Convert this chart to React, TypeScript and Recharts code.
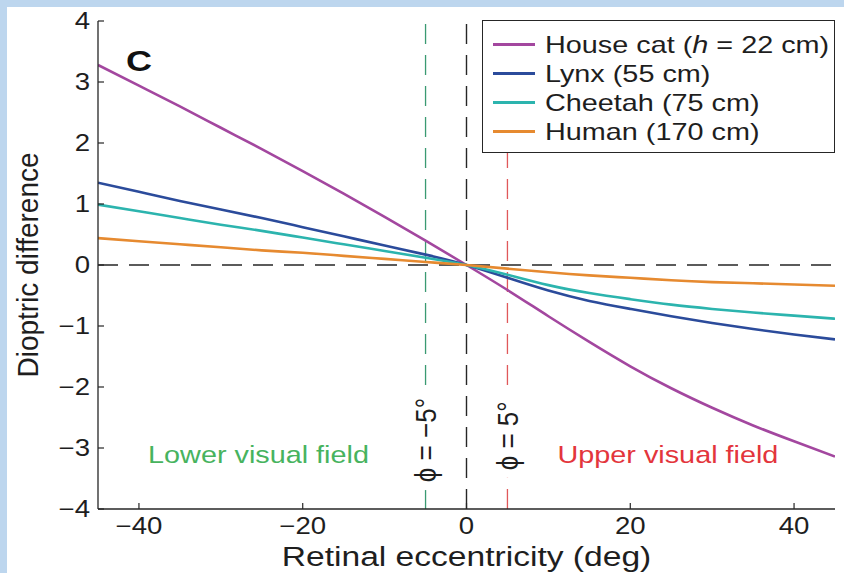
import React from 'react';
import { ComposedChart, Line, XAxis, YAxis, ReferenceLine, ReferenceDot, Legend } from 'recharts';

// ---- data ----
const eccentricity = [-45, -40, -35, -30, -25, -20, -15, -10, -5, 0, 5, 10, 15, 20, 25, 30, 35, 40, 45];
const houseCat = [3.28, 2.94, 2.6, 2.25, 1.9, 1.54, 1.17, 0.79, 0.4, 0, -0.41, -0.84, -1.26, -1.66, -2.02, -2.34, -2.63, -2.89, -3.14];
const lynx = [1.35, 1.2, 1.05, 0.91, 0.77, 0.62, 0.47, 0.32, 0.17, 0, -0.21, -0.42, -0.59, -0.72, -0.84, -0.95, -1.05, -1.14, -1.22];
const cheetah = [0.99, 0.88, 0.77, 0.66, 0.56, 0.45, 0.34, 0.23, 0.12, 0, -0.16, -0.33, -0.46, -0.56, -0.65, -0.72, -0.78, -0.83, -0.88];
const human = [0.44, 0.39, 0.34, 0.29, 0.24, 0.2, 0.15, 0.1, 0.05, 0, -0.06, -0.12, -0.17, -0.21, -0.25, -0.28, -0.3, -0.32, -0.34];

const seriesKeys = ['cat', 'lynx', 'cheetah', 'human'];
const seriesNames = ['House cat', 'Lynx', 'Cheetah', 'Human'];
const seriesHeights = [22, 55, 75, 170];
const seriesColors = ['#a3479f', '#2b4b9b', '#2cb4ae', '#e68a30'];

const xTicks = [-40, -20, 0, 20, 40];
const yTicks = [-4, -3, -2, -1, 0, 1, 2, 3, 4];
const xDomain = [-45, 45];
const yDomain = [-4, 4];

const lowerFieldLabel = 'Lower visual field';
const upperFieldLabel = 'Upper visual field';
const phiLeftLabel = '\u03D5 = \u22125\u00B0';
const phiRightLabel = '\u03D5 = 5\u00B0';
const panelLabel = 'C';
const xTitle = 'Retinal eccentricity (deg)';
const yTitle = 'Dioptric difference';

const data = eccentricity.map((x, i) => ({
  x,
  cat: houseCat[i],
  lynx: lynx[i],
  cheetah: cheetah[i],
  human: human[i],
}));

// ---- styling ----
const FONT = '"Liberation Sans", Arial, Helvetica, sans-serif';
const SX = 1.2;
const AX = '#262626';
const M = 8;
const TICK = 6;
const GREEN_LINE = '#3a9a72';
const RED_LINE = '#e0585a';
const GREEN_TEXT = '#47b35e';
const RED_TEXT = '#e3353c';

const fmt = (v: number) => (v < 0 ? '\u2212' + Math.abs(v) : String(v));

const ScaledText = ({ x, y, anchor = 'middle', size, fill = '#1e1e1e', weight = 'normal', children }: any) => (
  <g transform={`translate(${x},${y}) scale(${SX},1)`}>
    <text x={0} y={0} textAnchor={anchor} fontSize={size} fill={fill} fontWeight={weight} fontFamily={FONT}>
      {children}
    </text>
  </g>
);

const LeftTick = ({ x, y, payload }: any) => (
  <g>
    <line x1={x + M} x2={x + M + TICK} y1={y} y2={y} stroke={AX} strokeWidth={1.2} />
    <ScaledText x={x} y={y + 8} anchor="end" size={23}>{fmt(payload.value)}</ScaledText>
  </g>
);

const BottomTick = ({ x, y, payload }: any) => (
  <g>
    <line x1={x} x2={x} y1={y - M} y2={y - M - TICK} stroke={AX} strokeWidth={1.2} />
    <ScaledText x={x} y={y - M + 25} anchor="middle" size={23}>{fmt(payload.value)}</ScaledText>
  </g>
);

const TopTick = ({ x, y }: any) => (
  <line x1={x} x2={x} y1={y} y2={y + TICK} stroke={AX} strokeWidth={1.2} />
);

const RightTick = ({ x, y }: any) => (
  <line x1={x} x2={x - TICK} y1={y} y2={y} stroke={AX} strokeWidth={1.2} />
);

const XTitle = ({ viewBox }: any) => {
  const cx = viewBox.x + viewBox.width / 2;
  return <ScaledText x={cx} y={viewBox.y + 57} anchor="middle" size={28}>{xTitle}</ScaledText>;
};

const YTitle = ({ viewBox }: any) => {
  const cy = viewBox.y + viewBox.height / 2;
  return (
    <g transform={`translate(${viewBox.x + 20},${cy}) rotate(-90) scale(1,1.08)`}>
      <text x={0} y={10} textAnchor="middle" fontSize={28} fill="#1e1e1e" fontFamily={FONT}>{yTitle}</text>
    </g>
  );
};

const DotText = ({ viewBox, text, size, fill, weight }: any) => {
  const cx = viewBox.x + viewBox.width / 2;
  const cy = viewBox.y + viewBox.height / 2;
  return <ScaledText x={cx} y={cy + size * 0.36} anchor="middle" size={size} fill={fill} weight={weight}>{text}</ScaledText>;
};

const PhiText = ({ viewBox, text, len }: any) => {
  const cx = viewBox.x + viewBox.width / 2;
  const cy = viewBox.y + viewBox.height / 2;
  return (
    <g transform={`translate(${cx},${cy}) rotate(-90) scale(1,1.15)`}>
      <rect x={-len / 2 - 3} y={-14} width={len + 6} height={26} fill="#ffffff" />
      <text x={0} y={9} textAnchor="middle" fontSize={26} fill="#1e1e1e" fontFamily={FONT}>{text}</text>
    </g>
  );
};

const LegendBox = () => (
  <div
    style={{
      position: 'relative',
      width: 353,
      height: 133,
      boxSizing: 'border-box',
      border: `1.3px solid ${AX}`,
      background: '#fff',
      fontFamily: FONT,
      color: '#1e1e1e',
    }}
  >
    {seriesNames.map((name, i) => (
      <div key={name} style={{ position: 'absolute', left: 0, top: 9 + i * 29, height: 29, width: 350 }}>
        <div style={{ position: 'absolute', left: 10, top: 13, width: 42, height: 2.6, background: seriesColors[i] }} />
        <div
          style={{
            position: 'absolute',
            left: 62,
            top: 0,
            fontSize: 24,
            lineHeight: '29px',
            whiteSpace: 'nowrap',
            transform: `scaleX(${SX})`,
            transformOrigin: 'left center',
          }}
        >
          {i === 0 ? (
            <span>
              {name} (<i>h</i> = {seriesHeights[i]} cm)
            </span>
          ) : (
            <span>{`${name} (${seriesHeights[i]} cm)`}</span>
          )}
        </div>
      </div>
    ))}
  </div>
);

export default function App() {
  return (
    <div style={{ position: 'absolute', left: 0, top: 0, width: 844, height: 573, background: '#bdd6ee', overflow: 'hidden' }}>
      <div style={{ position: 'absolute', left: 7, top: 7, width: 837, height: 566, background: '#fff' }}>
        <ComposedChart width={837} height={566} data={data} margin={{ top: 14, right: 9, bottom: 0, left: 0 }}>
          <XAxis
            dataKey="x"
            type="number"
            domain={xDomain}
            ticks={xTicks}
            interval={0}
            allowDataOverflow
            height={64}
            tickSize={0}
            tickMargin={M}
            tickLine={false}
            axisLine={{ stroke: AX, strokeWidth: 1.3 }}
            tick={<BottomTick />}
            label={<XTitle />}
          />
          <XAxis
            xAxisId="top"
            orientation="top"
            type="number"
            dataKey="x"
            domain={xDomain}
            ticks={xTicks}
            interval={0}
            allowDataOverflow
            height={0}
            tickSize={0}
            tickMargin={0}
            tickLine={false}
            axisLine={{ stroke: AX, strokeWidth: 1.3 }}
            tick={<TopTick />}
          />
          <YAxis
            type="number"
            domain={yDomain}
            ticks={yTicks}
            interval={0}
            allowDataOverflow
            width={91}
            tickSize={0}
            tickMargin={M}
            tickLine={false}
            axisLine={{ stroke: AX, strokeWidth: 1.3 }}
            tick={<LeftTick />}
            label={<YTitle />}
          />
          <YAxis
            yAxisId="right"
            orientation="right"
            type="number"
            domain={yDomain}
            ticks={yTicks}
            interval={0}
            allowDataOverflow
            width={0}
            tickSize={0}
            tickMargin={0}
            tickLine={false}
            axisLine={{ stroke: AX, strokeWidth: 1.3 }}
            tick={<RightTick />}
          />
          <ReferenceLine y={0} stroke={AX} strokeWidth={1.4} strokeDasharray="20 11" />
          <ReferenceLine x={-5} stroke={GREEN_LINE} strokeWidth={1.3} strokeDasharray="20 11" />
          <ReferenceLine x={0} stroke={AX} strokeWidth={1.4} strokeDasharray="20 11" />
          <ReferenceLine x={5} stroke={RED_LINE} strokeWidth={1.3} strokeDasharray="20 11" />
          {seriesKeys.map((k, i) => (
            <Line
              key={k}
              dataKey={k}
              type="natural"
              stroke={seriesColors[i]}
              strokeWidth={2.6}
              dot={false}
              activeDot={false}
              isAnimationActive={false}
            />
          ))}
          <ReferenceDot x={-5} y={-2.87} r={0} stroke="none" fill="none" label={<PhiText text={phiLeftLabel} len={94} />} />
          <ReferenceDot x={5} y={-2.8} r={0} stroke="none" fill="none" label={<PhiText text={phiRightLabel} len={78} />} />
          <ReferenceDot x={-25.4} y={-3.11} r={0} stroke="none" fill="none" label={<DotText text={lowerFieldLabel} size={24} fill={GREEN_TEXT} />} />
          <ReferenceDot x={24.6} y={-3.11} r={0} stroke="none" fill="none" label={<DotText text={upperFieldLabel} size={24} fill={RED_TEXT} />} />
          <ReferenceDot x={-40} y={3.36} r={0} stroke="none" fill="none" label={<DotText text={panelLabel} size={30} fill="#111" weight="bold" />} />
          <Legend
            layout="horizontal"
            verticalAlign="middle"
            align="center"
            wrapperStyle={{ position: 'absolute', left: 475, top: 13, width: 353, height: 133 }}
            content={() => <LegendBox />}
          />
        </ComposedChart>
      </div>
    </div>
  );
}
